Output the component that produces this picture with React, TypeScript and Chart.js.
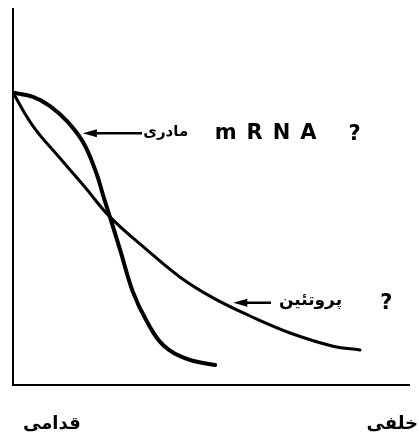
import React, { useEffect, useRef } from "react";
import { Chart, registerables } from "chart.js";

Chart.register(...registerables);

// position along embryo (0 = anterior, 100 = posterior)
const mrnaX = [0, 5.04, 9.32, 13.6, 17.6, 20.9, 22.9, 24.4, 27.0, 30.2, 33.8, 37.8, 43.8, 50.9];
const mrnaY = [77.5, 76.4, 74.0, 70.0, 64.5, 56.5, 49.6, 44.6, 35.8, 24.7, 16.7, 10.6, 6.9, 5.3];
const proteinX = [0, 5.04, 11.8, 18.1, 24.4, 33.8, 42.1, 50.4, 59.7, 69.8, 80.6, 87.4];
const proteinY = [77.5, 68.7, 60.2, 52.5, 44.6, 35.8, 28.6, 23.1, 18.3, 13.8, 10.3, 9.3];

const mrnaLabel = "مادری";
const mrnaName = "mRNA";
const proteinLabel = "پروتئین";
const leftLabel = "قدامی";
const rightLabel = "خلفی";

const FONT = '"DejaVu Sans", sans-serif';

function arrowLeft(ctx: CanvasRenderingContext2D, x1: number, x2: number, y: number) {
  ctx.save();
  ctx.strokeStyle = "#000";
  ctx.fillStyle = "#000";
  ctx.lineWidth = 2.5;
  ctx.beginPath();
  ctx.moveTo(x1 + 6, y);
  ctx.lineTo(x2, y);
  ctx.stroke();
  ctx.beginPath();
  ctx.moveTo(x1, y);
  ctx.lineTo(x1 + 14, y - 4);
  ctx.lineTo(x1 + 14, y + 4);
  ctx.closePath();
  ctx.fill();
  ctx.restore();
}

const overlay = {
  id: "overlay",
  afterDraw(chart: any) {
    const ctx: CanvasRenderingContext2D = chart.ctx;
    const a = chart.chartArea;
    const xs = chart.scales.x;
    const ys = chart.scales.y;
    ctx.save();
    // axes
    ctx.strokeStyle = "#000";
    ctx.lineWidth = 2;
    ctx.beginPath();
    ctx.moveTo(a.left, a.top);
    ctx.lineTo(a.left, a.bottom);
    ctx.lineTo(a.right, a.bottom);
    ctx.stroke();

    ctx.fillStyle = "#000";
    ctx.textBaseline = "middle";
    ctx.direction = "ltr";

    // mRNA annotation
    const yM = ys.getPixelForValue(66.8);
    arrowLeft(ctx, xs.getPixelForValue(17.6), xs.getPixelForValue(32.5), yM);
    ctx.font = `bold 15px ${FONT}`;
    ctx.textAlign = "left";
    ctx.fillText(mrnaLabel, xs.getPixelForValue(32.8), yM - 1);
    (ctx as any).letterSpacing = "10px";
    ctx.font = `bold 21px ${FONT}`;
    ctx.fillText(mrnaName, xs.getPixelForValue(50.8), yM);
    (ctx as any).letterSpacing = "0px";
    ctx.fillText("?", xs.getPixelForValue(84.5), yM + 1);

    // protein annotation
    const yP = ys.getPixelForValue(21.8);
    arrowLeft(ctx, xs.getPixelForValue(55.5), xs.getPixelForValue(65.0), yP);
    ctx.font = `bold 17px ${FONT}`;
    ctx.fillText(proteinLabel, xs.getPixelForValue(67.0), yP - 2);
    ctx.font = `bold 21px ${FONT}`;
    ctx.fillText("?", xs.getPixelForValue(92.5), yP + 1);

    // axis end labels
    const yL = a.bottom + 39;
    ctx.font = `bold 18px ${FONT}`;
    ctx.textAlign = "left";
    ctx.fillText(leftLabel, a.left + 10, yL);
    ctx.textAlign = "right";
    ctx.fillText(rightLabel, a.right + 8, yL);
    ctx.restore();
  },
};

export default function App() {
  const ref = useRef<HTMLCanvasElement | null>(null);
  useEffect(() => {
    document.body.style.margin = "0";
    const toPts = (xs: number[], ys: number[]) => xs.map((x, i) => ({ x, y: ys[i] }));
    const chart = new Chart(ref.current as HTMLCanvasElement, {
      type: "line",
      data: {
        datasets: [
          {
            label: "mRNA",
            data: toPts(mrnaX, mrnaY),
            borderColor: "#000",
            borderWidth: 4,
            pointRadius: 0,
            tension: 0.4,
            borderCapStyle: "round",
            borderJoinStyle: "round",
            fill: false,
          },
          {
            label: "protein",
            data: toPts(proteinX, proteinY),
            borderColor: "#000",
            borderWidth: 3,
            pointRadius: 0,
            tension: 0.4,
            borderCapStyle: "round",
            borderJoinStyle: "round",
            fill: false,
          },
        ],
      },
      options: {
        animation: false,
        responsive: true,
        maintainAspectRatio: false,
        layout: { padding: { left: 13, right: 9, top: 8, bottom: 61 } },
        plugins: { legend: { display: false }, tooltip: { enabled: false } },
        scales: {
          x: { type: "linear", min: 0, max: 100, display: false },
          y: { type: "linear", min: 0, max: 100, display: false },
        },
      },
      plugins: [overlay],
    });
    return () => chart.destroy();
  }, []);
  return (
    <div style={{ position: "relative", width: 419, height: 446, background: "#fff" }}>
      <canvas ref={ref} />
    </div>
  );
}
